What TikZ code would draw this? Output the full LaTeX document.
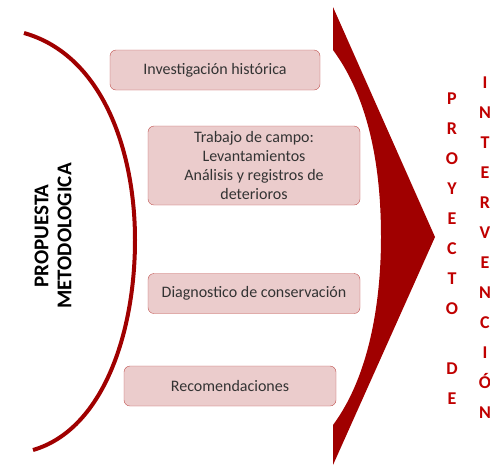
\documentclass[tikz,border=0pt]{standalone}
\usepackage{fontspec}
\setmainfont{Carlito}
\usetikzlibrary{positioning}
\definecolor{wine}{HTML}{A00000}
\definecolor{boxfill}{HTML}{EBCCCC}
\definecolor{boxline}{HTML}{C0504D}
\definecolor{textred}{HTML}{C00000}
\definecolor{textmain}{HTML}{333333}

\begin{document}
\begin{tikzpicture}[x=1pt, y=-1pt,
        b/.style={rectangle, draw=boxline, fill=boxfill, text=textmain,
                  rounded corners=6pt, font=\fontsize{16}{19}\selectfont,
                  align=center, minimum height=40pt, inner sep=0pt},
        col/.style={text=textred, font=\bfseries\fontsize{18}{30}\selectfont, align=center}
      ]
        \useasboundingbox (0,0) rectangle (490,467);
        % arc and big chevron
        \draw[wine, line width=4pt] (24,33) .. controls (102,55) and (135,150) .. (135,240)
              .. controls (135,335) and (102,430) .. (33,450);
        \fill[wine] (333,7) -- (435,237) -- (333,465) -- (333,425)
              .. controls (370,375) and (381,300) .. (381,237)
              .. controls (381,170) and (370,100) .. (333,50) -- cycle;
        \node[b, minimum width=210pt] (hist) at (215,70) {Investigación histórica};
        \node[b, minimum width=212pt, minimum height=79pt] (campo) at (254,165.5)
              {Trabajo de campo:\\Levantamientos\\Análisis y registros de\\deterioros};
        \node[b, minimum width=212pt] (diag) at (254,293.5) {Diagnostico de conservación};
        \node[b, minimum width=212pt] (recom) at (230,386) {Recomendaciones};
        \node[rotate=90, font=\bfseries\fontsize{21}{23}\selectfont, align=center] (prop)
              at (53,236) {PROPUESTA\\METODOLOGICA};
        \node[col] (proy) at (452,249) {P\\R\\O\\Y\\E\\C\\T\\O\\[30pt]D\\E};
        \node[col] (interv) at (485,248) {I\\N\\T\\E\\R\\V\\E\\N\\C\\I\\Ó\\N};
      \end{tikzpicture}
\end{document}
